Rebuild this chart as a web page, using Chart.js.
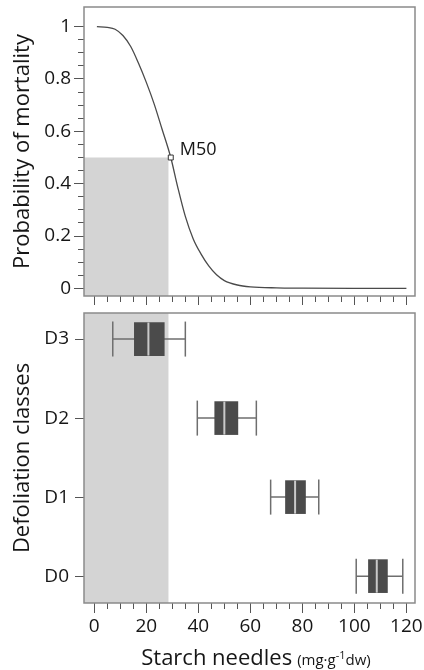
<!DOCTYPE html>
<html>
<head>
<meta charset="utf-8">
<script src="https://cdn.jsdelivr.net/npm/chart.js@4.4.1/dist/chart.umd.min.js"></script>
<style>
  html, body { margin: 0; padding: 0; background: #fff; }
  #wrap { position: relative; width: 424px; height: 670px; }
  #wrap canvas { position: absolute; left: 0; }
  #curveChart { top: 0; }
  #boxChart { top: 305px; }
</style>
</head>
<body>
<div id="wrap">
  <canvas id="curveChart" width="424" height="305"></canvas>
  <canvas id="boxChart" width="424" height="365"></canvas>
</div>
<script>
// mortality curve
const curveX = [1, 5, 8, 11, 14, 17, 20, 23, 26, 29.4, 32, 35, 38, 41, 44, 47, 50, 55, 60, 70, 80, 100, 120];
const curveY = [1, 0.997, 0.99, 0.966, 0.924, 0.86, 0.787, 0.705, 0.61, 0.5, 0.39, 0.275, 0.19, 0.132, 0.086, 0.052, 0.03, 0.013, 0.006, 0.002, 0.001, 0, 0];
const m50X = 29.4;
const m50Y = 0.5;
const shadeTo = 28.6;

// box plots per defoliation class
const classes = ['D0', 'D1', 'D2', 'D3'];
const whiskerLow = [100.7, 67.8, 39.6, 7.1];
const q1 = [105.4, 73.5, 46.3, 15.4];
const median = [108.6, 77.2, 50, 20.8];
const q3 = [112.7, 81.2, 55.2, 26.9];
const whiskerHigh = [118.6, 86.3, 62.3, 35];

const xMin = -3.96, xMax = 123.3;
const FONT = "'Open Sans', sans-serif";
const TXT = '#161616';
const TICK = '#555';

const framePlugin = {
  id: 'frame',
  afterDatasetsDraw(chart) {
    const a = chart.chartArea, c = chart.ctx;
    c.save();
    c.strokeStyle = '#8a8a8a';
    c.lineWidth = 1.5;
    c.strokeRect(a.left, a.top, a.right - a.left, a.bottom - a.top);
    c.restore();
  }
};

const m50Label = {
  id: 'm50Label',
  afterDatasetsDraw(chart) {
    const c = chart.ctx;
    const px = chart.scales.x.getPixelForValue(m50X);
    const py = chart.scales.y.getPixelForValue(m50Y);
    c.save();
    c.font = '18px ' + FONT;
    c.fillStyle = TXT;
    c.textBaseline = 'alphabetic';
    c.fillText('M50', px + 9, py - 2.5);
    c.restore();
  }
};

const xTitle = {
  id: 'xTitle',
  afterDraw(chart) {
    const c = chart.ctx;
    const base = chart.chartArea.bottom + 62;
    const parts = [
      ['Starch needles', '22px', 0, 5],
      ['(mg\u00b7g', '15px', 0, 0],
      ['-1', '11px', -6, 0],
      ['dw)', '15px', 0, 0]
    ];
    c.save();
    c.fillStyle = TXT;
    c.textBaseline = 'alphabetic';
    let total = 0;
    parts.forEach(p => { c.font = p[1] + ' ' + FONT; total += c.measureText(p[0]).width + p[3]; });
    let x = 256 - total / 2;
    parts.forEach(p => {
      c.font = p[1] + ' ' + FONT;
      c.fillText(p[0], x, base + p[2]);
      x += c.measureText(p[0]).width + p[3];
    });
    c.restore();
  }
};

function inRange(lo, hi) {
  return scale => { scale.ticks = scale.ticks.filter(t => t.value >= lo - 1e-9 && t.value <= hi + 1e-9); };
}

// fixed axis size, no extra padding for overflowing labels
function fixSize(w, h) {
  return s => {
    if (w !== null) s.width = w;
    if (h !== null) s.height = h;
    s.paddingLeft = s.paddingRight = s.paddingTop = s.paddingBottom = 0;
  };
}

function xAxes(showLabels, height) {
  return {
    x: {
      type: 'linear', position: 'bottom', min: xMin, max: xMax, weight: 1,
      border: { display: false },
      grid: { drawOnChartArea: false, drawTicks: true, tickLength: 10, color: TICK },
      ticks: {
        stepSize: 20, includeBounds: false, autoSkip: false, maxRotation: 0,
        display: showLabels, padding: 2, color: TXT, font: { family: FONT, size: 19 }
      },
      afterBuildTicks: inRange(0, 120),
      afterFit: fixSize(null, height)
    },
    xMinor: {
      type: 'linear', position: 'bottom', min: xMin, max: xMax, weight: -1,
      border: { display: false },
      grid: { drawOnChartArea: false, drawTicks: true, tickLength: 6, color: TICK },
      ticks: { stepSize: 5, includeBounds: false, autoSkip: false, display: false },
      afterBuildTicks: inRange(0, 120),
      afterFit: fixSize(null, 0)
    }
  };
}

// top: probability of mortality
new Chart(document.getElementById('curveChart'), {
  type: 'scatter',
  data: {
    datasets: [
      {
        type: 'line', order: 1,
        data: curveX.map((x, i) => ({ x, y: curveY[i] })),
        borderColor: '#4a4a4a', borderWidth: 1.3, pointRadius: 0,
        cubicInterpolationMode: 'monotone', fill: false
      },
      {
        type: 'scatter', order: 0,
        data: [{ x: m50X, y: m50Y }],
        pointStyle: 'rect', pointRadius: 3.5,
        backgroundColor: '#fff', borderColor: '#333', borderWidth: 1
      },
      {
        type: 'line', order: 5,
        data: [{ x: xMin, y: m50Y }, { x: shadeTo, y: m50Y }],
        borderWidth: 0, pointRadius: 0,
        backgroundColor: '#d4d4d4', fill: 'start'
      }
    ]
  },
  options: {
    responsive: false,
    animation: false,
    layout: { autoPadding: false, padding: { top: 7, right: 9, left: 0, bottom: 0 } },
    plugins: { legend: { display: false }, tooltip: { enabled: false } },
    scales: Object.assign(xAxes(false, 9), {
      y: {
        type: 'linear', position: 'left', min: -0.029, max: 1.075, weight: 1,
        border: { display: false },
        grid: { drawOnChartArea: false, drawTicks: true, tickLength: 10, color: TICK },
        ticks: {
          stepSize: 0.2, includeBounds: false, autoSkip: false, padding: 3,
          color: TXT, font: { family: FONT, size: 19 },
          callback: v => String(Math.round(v * 10) / 10)
        },
        title: {
          display: true, text: 'Probability of mortality', color: TXT,
          font: { family: FONT, size: 22 }, padding: { top: 10, bottom: 0 }
        },
        afterBuildTicks: inRange(0, 1),
        afterFit: fixSize(84, null)
      },
      yMinor: {
        type: 'linear', position: 'left', min: -0.029, max: 1.075, weight: -1,
        border: { display: false },
        grid: { drawOnChartArea: false, drawTicks: true, tickLength: 6, color: TICK },
        ticks: { stepSize: 0.05, includeBounds: false, autoSkip: false, display: false },
        afterBuildTicks: inRange(0, 1),
        afterFit: fixSize(0, null)
      }
    })
  },
  plugins: [framePlugin, m50Label]
});

// bottom: starch per defoliation class
const whiskerSets = classes.map((c, i) => ({
  type: 'line', order: 4,
  data: [{ x: whiskerLow[i], y: i }, { x: whiskerHigh[i], y: i }],
  borderColor: '#6e6e6e', borderWidth: 1.5, pointRadius: 0, fill: false
}));

new Chart(document.getElementById('boxChart'), {
  type: 'scatter',
  data: {
    datasets: [
      {
        type: 'line', order: 9,
        data: [{ x: xMin, y: 3.33 }, { x: shadeTo, y: 3.33 }],
        borderWidth: 0, pointRadius: 0,
        backgroundColor: '#d4d4d4', fill: 'start'
      },
      ...whiskerSets,
      {
        type: 'scatter', order: 3,
        data: classes.flatMap((c, i) => [{ x: whiskerLow[i], y: i }, { x: whiskerHigh[i], y: i }]),
        pointStyle: 'line', rotation: 90, pointRadius: 17.5,
        borderColor: '#6e6e6e', borderWidth: 1.5
      },
      {
        type: 'bar', order: 2, indexAxis: 'y',
        data: classes.map((c, i) => ({ x: [q1[i], q3[i]], y: i })),
        backgroundColor: '#4b4b4b', borderWidth: 0, barThickness: 33
      },
      {
        type: 'scatter', order: 1,
        data: classes.map((c, i) => ({ x: median[i], y: i })),
        pointStyle: 'line', rotation: 90, pointRadius: 16.5,
        borderColor: '#c9c9c9', borderWidth: 2
      }
    ]
  },
  options: {
    responsive: false,
    animation: false,
    layout: { autoPadding: false, padding: { top: 8, right: 9, left: 0, bottom: 0 } },
    plugins: { legend: { display: false }, tooltip: { enabled: false } },
    scales: Object.assign(xAxes(true, 67), {
      y: {
        type: 'linear', position: 'left', min: -0.34, max: 3.33, offset: false,
        border: { display: false },
        grid: { drawOnChartArea: false, drawTicks: true, tickLength: 9, color: TICK, offset: false },
        ticks: {
          stepSize: 1, includeBounds: false, autoSkip: false, padding: 6,
          color: TXT, font: { family: FONT, size: 19 },
          callback: v => classes[v]
        },
        title: {
          display: true, text: 'Defoliation classes', color: TXT,
          font: { family: FONT, size: 22 }, padding: { top: 10, bottom: 0 }
        },
        afterBuildTicks: inRange(0, 3),
        afterFit: fixSize(84, null)
      }
    })
  },
  plugins: [framePlugin, xTitle]
});
</script>
</body>
</html>
